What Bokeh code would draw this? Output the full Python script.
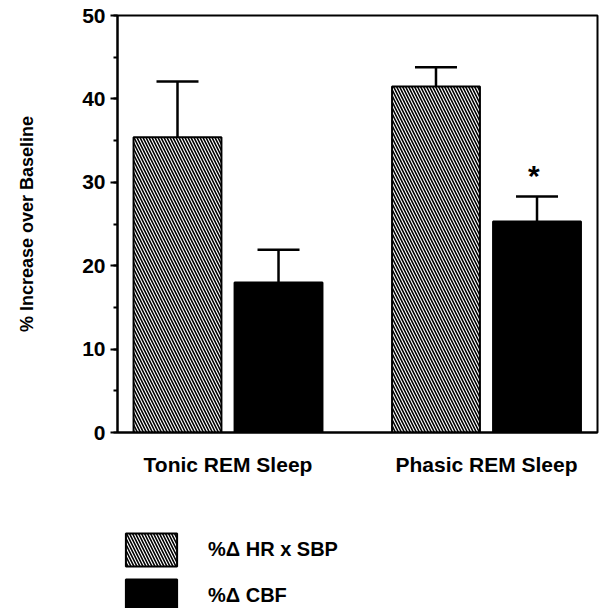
from bokeh.plotting import figure
from bokeh.layouts import column
from bokeh.models import (ColumnDataSource, Whisker, TeeHead, Legend, LegendItem,
                          SingleIntervalTicker, FixedTicker, Range1d)
from bokeh.transform import dodge
from bokeh.core.properties import value
from bokeh.embed import file_html
from bokeh.resources import INLINE

# ---- data ----
groups = ["Tonic REM Sleep", "Phasic REM Sleep"]
hr_sbp = [35.4, 41.5]        # % change HR x SBP
hr_sbp_sem = [6.7, 2.3]
cbf = [18.0, 25.3]           # % change CBF
cbf_sem = [3.9, 3.0]
cbf_marks = ["", "*"]
series_labels = ["%\u0394 HR x SBP", "%\u0394 CBF"]

FONT = "Liberation Sans"
gx = list(range(len(groups)))

src_a = ColumnDataSource(dict(x=gx, top=hr_sbp,
                              upper=[v + e for v, e in zip(hr_sbp, hr_sbp_sem)]))
src_b = ColumnDataSource(dict(x=gx, top=cbf,
                              upper=[v + e for v, e in zip(cbf, cbf_sem)],
                              mark=cbf_marks))

hatch_style = dict(fill_color="white", line_color="black", line_width=2,
                   hatch_pattern="\\", hatch_color="black", hatch_scale=6, hatch_weight=1.6)
solid_style = dict(fill_color="black", line_color="black", line_width=2)

p = figure(frame_width=480, frame_height=417,
           min_border_left=117, min_border_right=6,
           min_border_top=15, min_border_bottom=68,
           x_range=Range1d(-0.4275, 1.4294), y_range=Range1d(0, 50),
           output_backend="svg", toolbar_location=None)
p.background_fill_color = "white"
p.border_fill_color = "white"
p.outline_line_color = "black"
p.outline_line_width = 2
p.grid.grid_line_color = None

off = 0.1954
bw = 0.340
p.vbar(x=dodge("x", -off, range=p.x_range), top="top", bottom=0, width=bw,
       source=src_a, **hatch_style)
p.vbar(x=dodge("x", off, range=p.x_range), top="top", bottom=0, width=bw,
       source=src_b, **solid_style)

for src, o in ((src_a, -off), (src_b, off)):
    w = Whisker(base=dodge("x", o, range=p.x_range), upper="upper", lower="top",
                source=src, dimension="height", line_color="black", line_width=2.5,
                upper_head=TeeHead(size=42, line_color="black", line_width=2.5),
                lower_head=None)
    p.add_layout(w)

p.text(x=dodge("x", off - 0.012, range=p.x_range), y="upper", text="mark", source=src_b,
       text_font=value(FONT), text_font_style="bold", text_font_size="30px",
       text_align="center", text_baseline="middle", y_offset=-21, text_color="black")

# axes
yax = p.yaxis[0]
yax.ticker = SingleIntervalTicker(interval=10, num_minor_ticks=2)
yax.axis_line_width = 2
yax.major_tick_line_width = 2
yax.major_tick_out = 7
yax.major_tick_in = 0
yax.minor_tick_line_width = 2
yax.minor_tick_out = 4
yax.minor_tick_in = 0
yax.major_label_text_font = FONT
yax.major_label_text_font_style = "bold"
yax.major_label_text_font_size = "21px"
yax.major_label_text_color = "black"
yax.major_label_standoff = 5
yax.axis_label = "% Increase over Baseline"
yax.axis_label_text_font = FONT
yax.axis_label_text_font_style = "bold"
yax.axis_label_text_font_size = "18px"
yax.axis_label_text_color = "black"
yax.axis_label_standoff = 42

xax = p.xaxis[0]
xax.ticker = FixedTicker(ticks=gx)
xax.major_label_overrides = {i: g for i, g in enumerate(groups)}
xax.axis_line_width = 2
xax.major_tick_line_color = None
xax.minor_tick_line_color = None
xax.major_tick_out = 0
xax.major_tick_in = 0
xax.major_label_text_font = FONT
xax.major_label_text_font_style = "bold"
xax.major_label_text_font_size = "21px"
xax.major_label_text_color = "black"
xax.major_label_standoff = 20

# ---- legend strip below the chart (swatch renderers sit outside its ranges) ----
q = figure(frame_width=603, frame_height=108, min_border=0,
           x_range=Range1d(0, 1), y_range=Range1d(0, 1),
           x_axis_type=None, y_axis_type=None,
           output_backend="svg", toolbar_location=None)
q.outline_line_color = None
q.grid.grid_line_color = None
q.background_fill_color = "white"
q.border_fill_color = "white"
swatch = ColumnDataSource(dict(x=[3.0], top=[4.0]))
la = q.vbar(x="x", top="top", bottom=3, width=0.1, source=swatch, **hatch_style)
lb = q.vbar(x="x", top="top", bottom=3, width=0.1, source=swatch, **solid_style)

legend = Legend(items=[LegendItem(label=series_labels[0], renderers=[la]),
                       LegendItem(label=series_labels[1], renderers=[lb])],
                location=(119, -8), orientation="vertical",
                glyph_width=64, glyph_height=41, spacing=5, label_standoff=25,
                padding=0, margin=0, border_line_color=None,
                background_fill_alpha=0,
                label_text_font=FONT, label_text_font_style="bold",
                label_text_font_size="20px", label_text_color="black",
                label_text_baseline="middle")
q.add_layout(legend, "center")

layout = column(p, q, spacing=0)
open("out.html", "w").write(file_html(layout, INLINE))
